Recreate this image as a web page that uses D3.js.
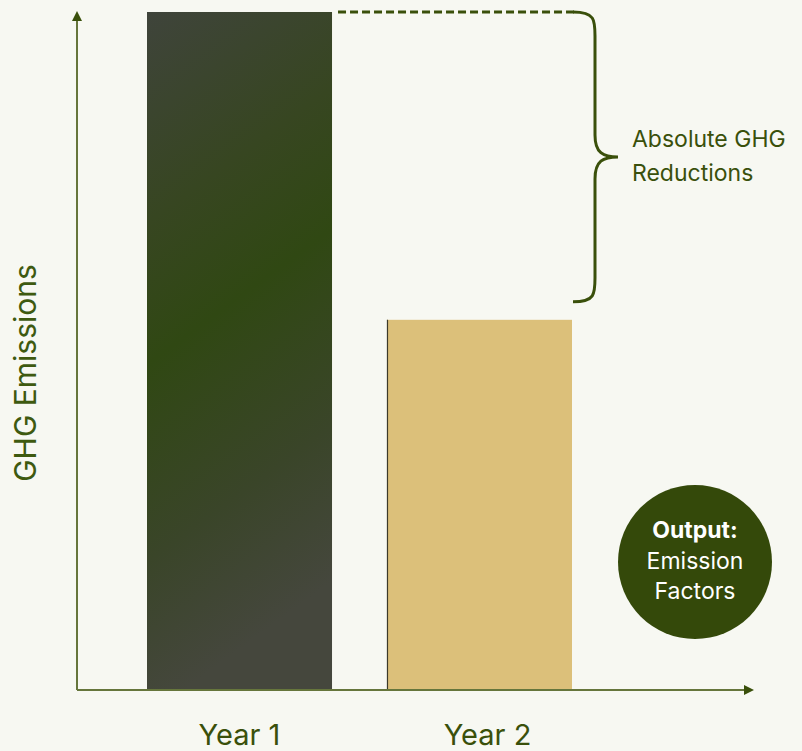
<!DOCTYPE html>
<html>
<head>
<meta charset="utf-8">
<script src="https://cdn.jsdelivr.net/npm/d3@7"></script>
<style>
  html, body { margin: 0; padding: 0; background: #f7f8f2; }
  svg { display: block; font-family: Inter, "Noto Sans", sans-serif; }
</style>
</head>
<body>
<div id="chart"></div>
<script>
// chart values
const categories = ['Year 1', 'Year 2'];
const emissions = [100, 54.6];
const yLabel = 'GHG Emissions';
const braceLines = ['Absolute GHG', 'Reductions'];
const badgeLines = ['Output:', 'Emission', 'Factors'];

const width = 802, height = 751;
const olive = '#3a500b';

const svg = d3.select('#chart')
  .append('svg')
  .attr('width', width)
  .attr('height', height);

const defs = svg.append('defs');

// gradient standing in for the photo texture of bar 1 (grey top, green middle, grey bottom)
const grad = defs.append('linearGradient')
  .attr('id', 'bar1')
  .attr('x1', 0).attr('y1', 0).attr('x2', 0.2).attr('y2', 1);
grad.append('stop').attr('offset', '0%').attr('stop-color', '#3f443b');
grad.append('stop').attr('offset', '30%').attr('stop-color', '#374621');
grad.append('stop').attr('offset', '50%').attr('stop-color', '#304813');
grad.append('stop').attr('offset', '78%').attr('stop-color', '#3a4529');
grad.append('stop').attr('offset', '100%').attr('stop-color', '#45473d');

defs.append('marker')
  .attr('id', 'arrow')
  .attr('viewBox', '0 0 10 10')
  .attr('refX', 5).attr('refY', 5)
  .attr('markerWidth', 5).attr('markerHeight', 5)
  .attr('orient', 'auto')
  .append('path')
  .attr('d', 'M0,0 L10,5 L0,10 z')
  .attr('fill', olive);

const x0 = 77, yBase = 690;

const x = d3.scaleBand()
  .domain(categories)
  .range([147, 572])
  .paddingInner(0.229)
  .paddingOuter(0);

const y = d3.scaleLinear()
  .domain([0, 100])
  .range([yBase, 12]);

// bars
svg.selectAll('rect.bar')
  .data(categories)
  .join('rect')
  .attr('class', 'bar')
  .attr('x', d => x(d))
  .attr('y', (d, i) => y(emissions[i]))
  .attr('width', x.bandwidth())
  .attr('height', (d, i) => yBase - y(emissions[i]))
  .attr('fill', (d, i) => i === 0 ? 'url(#bar1)' : '#dcc07a');

// thin dark edge on the second bar
svg.append('line')
  .attr('x1', x(categories[1]) + 0.5).attr('x2', x(categories[1]) + 0.5)
  .attr('y1', y(emissions[1])).attr('y2', yBase)
  .attr('stroke', '#3b3a2a').attr('stroke-width', 1.2);

// axes with arrow heads
svg.append('line')
  .attr('x1', x0).attr('y1', yBase)
  .attr('x2', x0).attr('y2', 16)
  .attr('stroke', '#66763c').attr('stroke-width', 2)
  .attr('marker-end', 'url(#arrow)');

svg.append('line')
  .attr('x1', x0).attr('y1', yBase)
  .attr('x2', 749).attr('y2', yBase)
  .attr('stroke', '#66763c').attr('stroke-width', 2)
  .attr('marker-end', 'url(#arrow)');

// category labels
svg.selectAll('text.cat')
  .data(categories)
  .join('text')
  .attr('class', 'cat')
  .attr('x', (d, i) => x(d) + x.bandwidth() / 2 + (i === 1 ? 8 : 0))
  .attr('y', 745)
  .attr('text-anchor', 'middle')
  .attr('fill', olive)
  .style('font-size', '29px')
  .text(d => d);

// y axis title
svg.append('text')
  .attr('transform', `translate(36,373) rotate(-90)`)
  .attr('text-anchor', 'middle')
  .attr('fill', '#3e5a10')
  .style('font-size', '30px')
  .text(yLabel);

// dashed line from top of year 1 to the brace
const topY = y(emissions[0]);
const lowY = y(emissions[1]) - 18;
svg.append('line')
  .attr('x1', x(categories[0]) + x.bandwidth() + 6).attr('y1', topY)
  .attr('x2', 574).attr('y2', topY)
  .attr('stroke', olive).attr('stroke-width', 3)
  .attr('stroke-dasharray', '8,4');

// curly brace
const bx = 595, tip = 618, midY = (topY + lowY) / 2;
const brace = d3.path();
brace.moveTo(573, topY);
brace.bezierCurveTo(bx, topY, bx, topY + 8, bx, topY + 24);
brace.lineTo(bx, midY - 22);
brace.bezierCurveTo(bx, midY - 4, bx + 8, midY, tip, midY);
brace.bezierCurveTo(bx + 8, midY, bx, midY + 4, bx, midY + 22);
brace.lineTo(bx, lowY - 24);
brace.bezierCurveTo(bx, lowY - 8, bx, lowY, 573, lowY);
svg.append('path')
  .attr('d', brace.toString())
  .attr('fill', 'none')
  .attr('stroke', olive)
  .attr('stroke-width', 3);

svg.append('text')
  .attr('x', 632).attr('y', 147)
  .attr('fill', olive)
  .style('font-size', '23px')
  .selectAll('tspan')
  .data(braceLines)
  .join('tspan')
  .attr('x', 632)
  .attr('dy', (d, i) => i === 0 ? 0 : 34)
  .text(d => d);

// output badge
svg.append('circle')
  .attr('cx', 695).attr('cy', 562).attr('r', 77)
  .attr('fill', '#34490a');

svg.append('text')
  .attr('text-anchor', 'middle')
  .attr('fill', '#ffffff')
  .style('font-size', '23px')
  .selectAll('tspan')
  .data(badgeLines)
  .join('tspan')
  .attr('x', 695)
  .attr('y', (d, i) => 538 + i * 30.5)
  .style('font-weight', (d, i) => i === 0 ? 700 : 400)
  .text(d => d);
</script>
</body>
</html>
